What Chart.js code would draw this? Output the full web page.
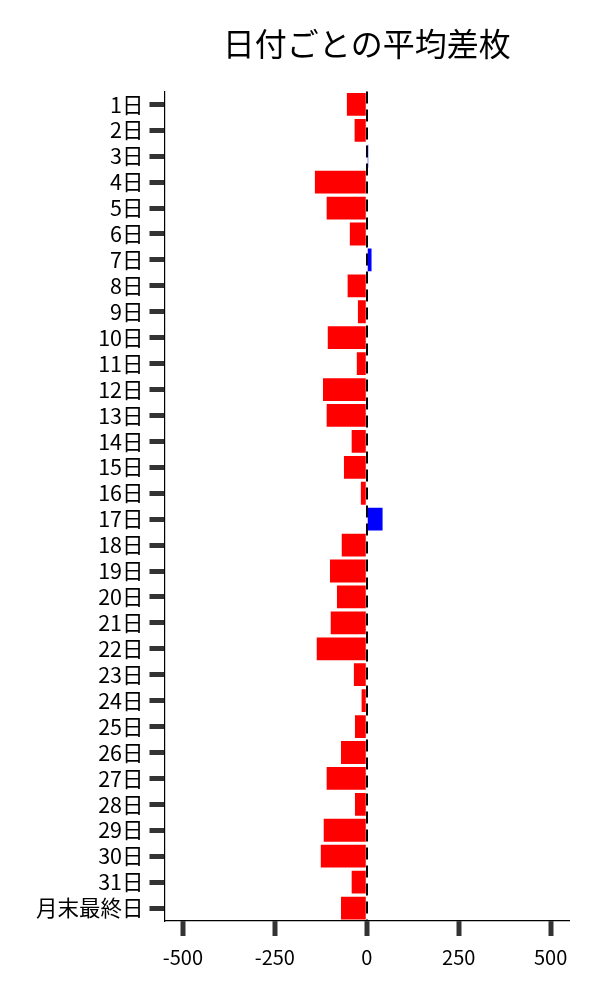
<!DOCTYPE html>
<html lang="ja">
<head>
  <meta charset="UTF-8">
  <title>日付ごとの平均差枚</title>
  <script src="https://cdn.jsdelivr.net/npm/chart.js"></script>
  <style>
    html, body { margin: 0; padding: 0; background: #fff; }
    #wrap { width: 600px; height: 1000px; }
  </style>
</head>
<body>
  <div id="wrap"><canvas id="avgChart"></canvas></div>

  <script>
    // 日付ラベル
    const days = ['1日','2日','3日','4日','5日','6日','7日','8日','9日','10日',
      '11日','12日','13日','14日','15日','16日','17日','18日','19日','20日',
      '21日','22日','23日','24日','25日','26日','27日','28日','29日','30日',
      '31日','月末最終日'];

    // 平均差枚 (picture から読み取り)
    const avgDiff = [-54, -33, 4, -141, -109, -46, 13, -52, -24, -106,
      -27, -119, -109, -41, -62, -16, 43, -68, -100, -81,
      -98, -136, -35, -14, -32, -70, -109, -32, -117, -125,
      -41, -70];

    const xTicks = [-500, -250, 0, 250, 500];
    const xRange = [-550, 550];

    const font = "'Noto Sans CJK JP', 'Noto Sans', sans-serif";

    const ctx = document.getElementById('avgChart').getContext('2d');
    new Chart(ctx, {
      type: 'bar',
      data: {
        labels: days,
        datasets: [{
          data: avgDiff,
          backgroundColor: avgDiff.map(v => v < 0 ? '#ff0000' : '#0000ff'),
          borderWidth: 0,
          barPercentage: 0.88,
          categoryPercentage: 1.0,
        }],
      },
      options: {
        indexAxis: 'y',
        responsive: true,
        maintainAspectRatio: false,
        animation: false,
        layout: { padding: { left: 30, right: 31, top: 19, bottom: 22 } },
        plugins: {
          legend: { display: false },
          tooltip: { enabled: false },
          title: {
            display: true,
            text: '日付ごとの平均差枚',
            fullSize: false,
            color: '#000',
            font: { family: font, size: 32, weight: 'normal' },
            padding: { top: 6, bottom: 28 },
          },
        },
        scales: {
          x: {
            min: xRange[0],
            max: xRange[1],
            afterBuildTicks: axis => { axis.ticks = xTicks.map(v => ({ value: v })); },
            grid: {
              color: c => (c.tick && c.tick.value === 0) ? '#000' : 'rgba(0,0,0,0)',
              lineWidth: 2,
              drawOnChartArea: true,
              drawTicks: true,
              tickColor: '#333',
              tickWidth: 5,
              tickLength: 15,
            },
            border: { display: true, color: '#000', width: 1.2, dash: [12, 6] },
            ticks: {
              color: '#000',
              padding: 9,
              font: { family: font, size: 20 },
            },
          },
          y: {
            grid: {
              offset: false,
              drawOnChartArea: false,
              drawTicks: true,
              tickColor: '#333',
              tickWidth: 5,
              tickLength: 15,
            },
            border: { display: true, color: '#000', width: 1.2 },
            ticks: {
              color: '#000',
              padding: 6,
              autoSkip: false,
              font: { family: font, size: 21.5 },
            },
          },
        },
      },
    });
  </script>
</body>
</html>
